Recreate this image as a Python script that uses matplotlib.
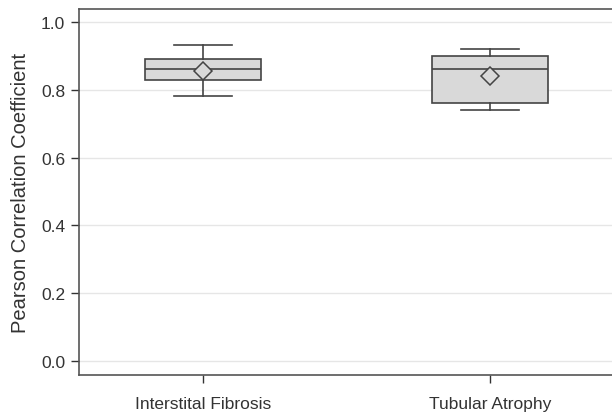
import matplotlib
matplotlib.use("Agg")
import matplotlib.pyplot as plt

categories = ["Interstital Fibrosis", "Tubular Atrophy"]
whisker_low = [0.782, 0.741]
q1 = [0.829, 0.761]
median = [0.861, 0.861]
q3 = [0.891, 0.900]
whisker_high = [0.932, 0.920]
means = [0.855, 0.840]

plt.rcParams['font.family'] = ['Liberation Sans', 'DejaVu Sans']

fig = plt.figure(figsize=(6.12, 4.14), dpi=100)
ax = fig.add_axes([79/612, 38/414, 1 - 79/612, 366/414])

stats = []
for i, name in enumerate(categories):
    stats.append(dict(label=name, whislo=whisker_low[i], q1=q1[i], med=median[i],
                      q3=q3[i], whishi=whisker_high[i], mean=means[i], fliers=[]))

edge = '#444444'
ax.bxp(stats, positions=[0, 1], widths=0.404, capwidths=0.2, showmeans=True,
       patch_artist=True, manage_ticks=False,
       boxprops=dict(facecolor='#d9d9d9', edgecolor=edge, linewidth=1.2),
       medianprops=dict(color=edge, linewidth=1.2),
       whiskerprops=dict(color=edge, linewidth=1.2),
       capprops=dict(color=edge, linewidth=1.2),
       meanprops=dict(marker='D', markerfacecolor='#d9d9d9', markeredgecolor=edge,
                      markersize=9, markeredgewidth=1.1))

ax.set_xlim(-0.432, 1.425)
ax.set_ylim(-0.041, 1.038)
ax.set_yticks([0.0, 0.2, 0.4, 0.6, 0.8, 1.0])
ax.set_yticklabels(['0.0', '0.2', '0.4', '0.6', '0.8', '1.0'])
ax.set_xticks([0, 1])
ax.set_xticklabels(categories)
ax.yaxis.grid(True, color='#e6e6e6', linewidth=1)
ax.set_axisbelow(True)

ax.set_ylabel('Pearson Correlation Coefficient', fontsize=14.5, color='#333333', labelpad=8)
ax.tick_params(axis='both', labelsize=12.5, labelcolor='#333333', color='#333333',
               length=6, width=1)
ax.tick_params(axis='x', pad=9)
ax.tick_params(axis='y', pad=4)
for side in ['left', 'bottom', 'top']:
    ax.spines[side].set_color('#555555')
    ax.spines[side].set_linewidth(1.2)
ax.spines['right'].set_visible(False)

fig.savefig('out.png', dpi=100)
